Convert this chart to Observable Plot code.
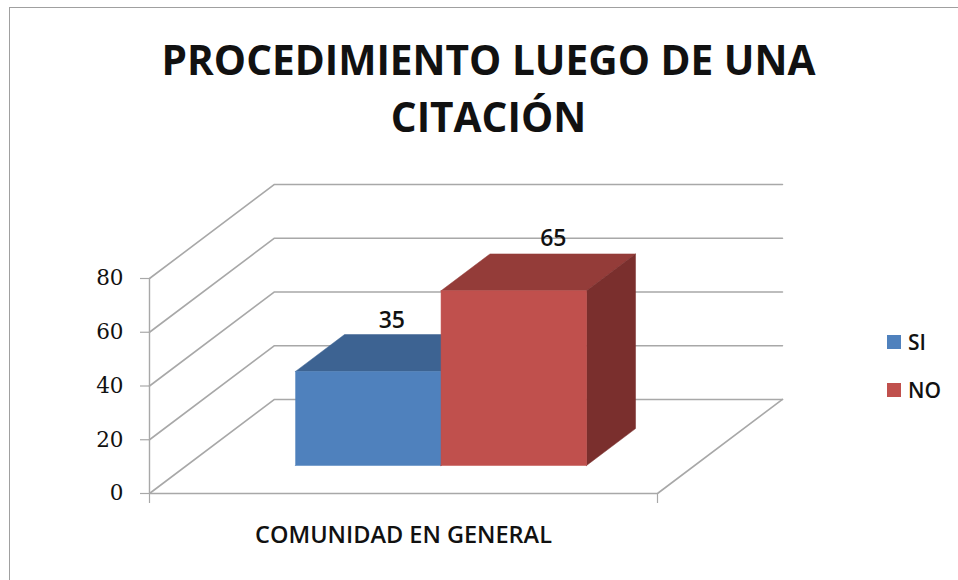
<!DOCTYPE html>
<html><head><meta charset="utf-8">
<script src="https://cdn.jsdelivr.net/npm/d3@7"></script>
<script src="https://cdn.jsdelivr.net/npm/@observablehq/plot@0.6"></script>
<style>
html,body{margin:0;padding:0;background:#fff;}
#wrap{position:relative;width:958px;height:580px;overflow:hidden;font-family:"Open Sans",sans-serif;}
#frame{position:absolute;left:9px;top:7px;width:950px;height:580px;border:1px solid #a0a0a0;box-sizing:border-box;}
#title{position:absolute;left:0;top:31px;width:977px;text-align:center;font-weight:700;font-size:40.6px;line-height:57px;color:#111;}
.leg{position:absolute;left:887px;font-size:21px;font-weight:600;color:#111;line-height:20px;padding-left:21px;}
.leg i{position:absolute;left:0;top:3px;width:14px;height:14px;}
svg{position:absolute;left:0;top:0;}
</style></head><body>
<div id="wrap"><div id="frame"></div>
<div id="title">PROCEDIMIENTO LUEGO DE UNA<br>CITACIÓN</div>
<div class="leg" style="top:332px"><i style="background:#4f81bd"></i>SI</div>
<div class="leg" style="top:380px"><i style="background:#c0504d"></i>NO</div>
</div>
<script>
const categories = ["COMUNIDAD EN GENERAL"];
const seriesNames = ["SI", "NO"];
const seriesValues = [35, 65];
const valueTicks = [0, 20, 40, 60, 80];
const frontColors = ["#4f81bd", "#c0504d"];
const topColors = ["#3d6392", "#943c39"];
const sideColors = ["#325078", "#7a2f2d"];
const depthX = 0.246, depthY = 35;          // oblique projection, in scale units
const barStart = 0.2142, barWidth = 0.2864; // within the category
const depthFront = 0.298, depthBack = 0.69;

const P = (x, v, d) => ({x: x + d * depthX, y: v + d * depthY});
const poly = (pts, fill) => Plot.line([...pts, pts[0]], {x: "x", y: "y", fill, stroke: fill, strokeWidth: 0.5, curve: "linear-closed"});
const grid = "#a8a8a8";

const marks = [];
// walls
for (const t of valueTicks) {
  marks.push(Plot.line([P(0, t, 0), P(0, t, 1), P(1, t, 1)], {x: "x", y: "y", stroke: grid, strokeWidth: 1.6}));
}
marks.push(Plot.line([P(0, 0, 0), P(1, 0, 0), P(1, 0, 1)], {x: "x", y: "y", stroke: grid, strokeWidth: 1.6}));
marks.push(Plot.line([P(0, 0, 0), P(0, 80, 0)], {x: "x", y: "y", stroke: grid, strokeWidth: 1.4}));
// bars, left to right
seriesValues.forEach((v, i) => {
  const a = barStart + i * barWidth, b = a + barWidth;
  marks.push(poly([P(a, v, depthFront), P(b, v, depthFront), P(b, v, depthBack), P(a, v, depthBack)], topColors[i]));
  marks.push(poly([P(b, 0, depthFront), P(b, v, depthFront), P(b, v, depthBack), P(b, 0, depthBack)], sideColors[i]));
});
seriesValues.forEach((v, i) => {
  const a = barStart + i * barWidth, b = a + barWidth;
  marks.push(poly([P(a, 0, depthFront), P(b, 0, depthFront), P(b, v, depthFront), P(a, v, depthFront)], frontColors[i]));
});
// value labels
const labelDx = [-1, 15], labelDy = [-32, -34];
seriesValues.forEach((v, i) => {
  const c = P(barStart + (i + 0.5) * barWidth, v, (depthFront + depthBack) / 2);
  marks.push(Plot.text([v], {x: () => c.x, y: () => c.y, text: d => String(d), dx: labelDx[i], dy: labelDy[i], fontSize: 23, fontWeight: 600, fill: "#111", fontFamily: "Open Sans"}));
});
// axes
marks.push(Plot.axisY({ticks: valueTicks, tickSize: 9, tickPadding: 17, stroke: grid, strokeWidth: 1.2, label: null, fontSize: 21.5, fontFamily: "DejaVu Serif", fill: "#111"}));
marks.push(Plot.axisX({ticks: [0, 1], tickSize: 10, tickFormat: () => "", stroke: grid, strokeWidth: 1.2, label: null}));
marks.push(Plot.axisX({ticks: [0.5], tickSize: 0, tickPadding: 33, tickFormat: () => categories[0], label: null, fontSize: 23.5, fontWeight: 600, fontFamily: "Open Sans", fill: "#111"}));

const chart = Plot.plot({
  width: 958, height: 580,
  marginLeft: 149, marginRight: 301, marginTop: 178, marginBottom: 87,
  x: {domain: [0, 1], range: [149, 657]},
  y: {domain: [0, 80], range: [493, 278]},
  style: {background: "transparent", overflow: "visible"},
  marks
});
document.getElementById("wrap").appendChild(chart);
</script>
</body></html>
